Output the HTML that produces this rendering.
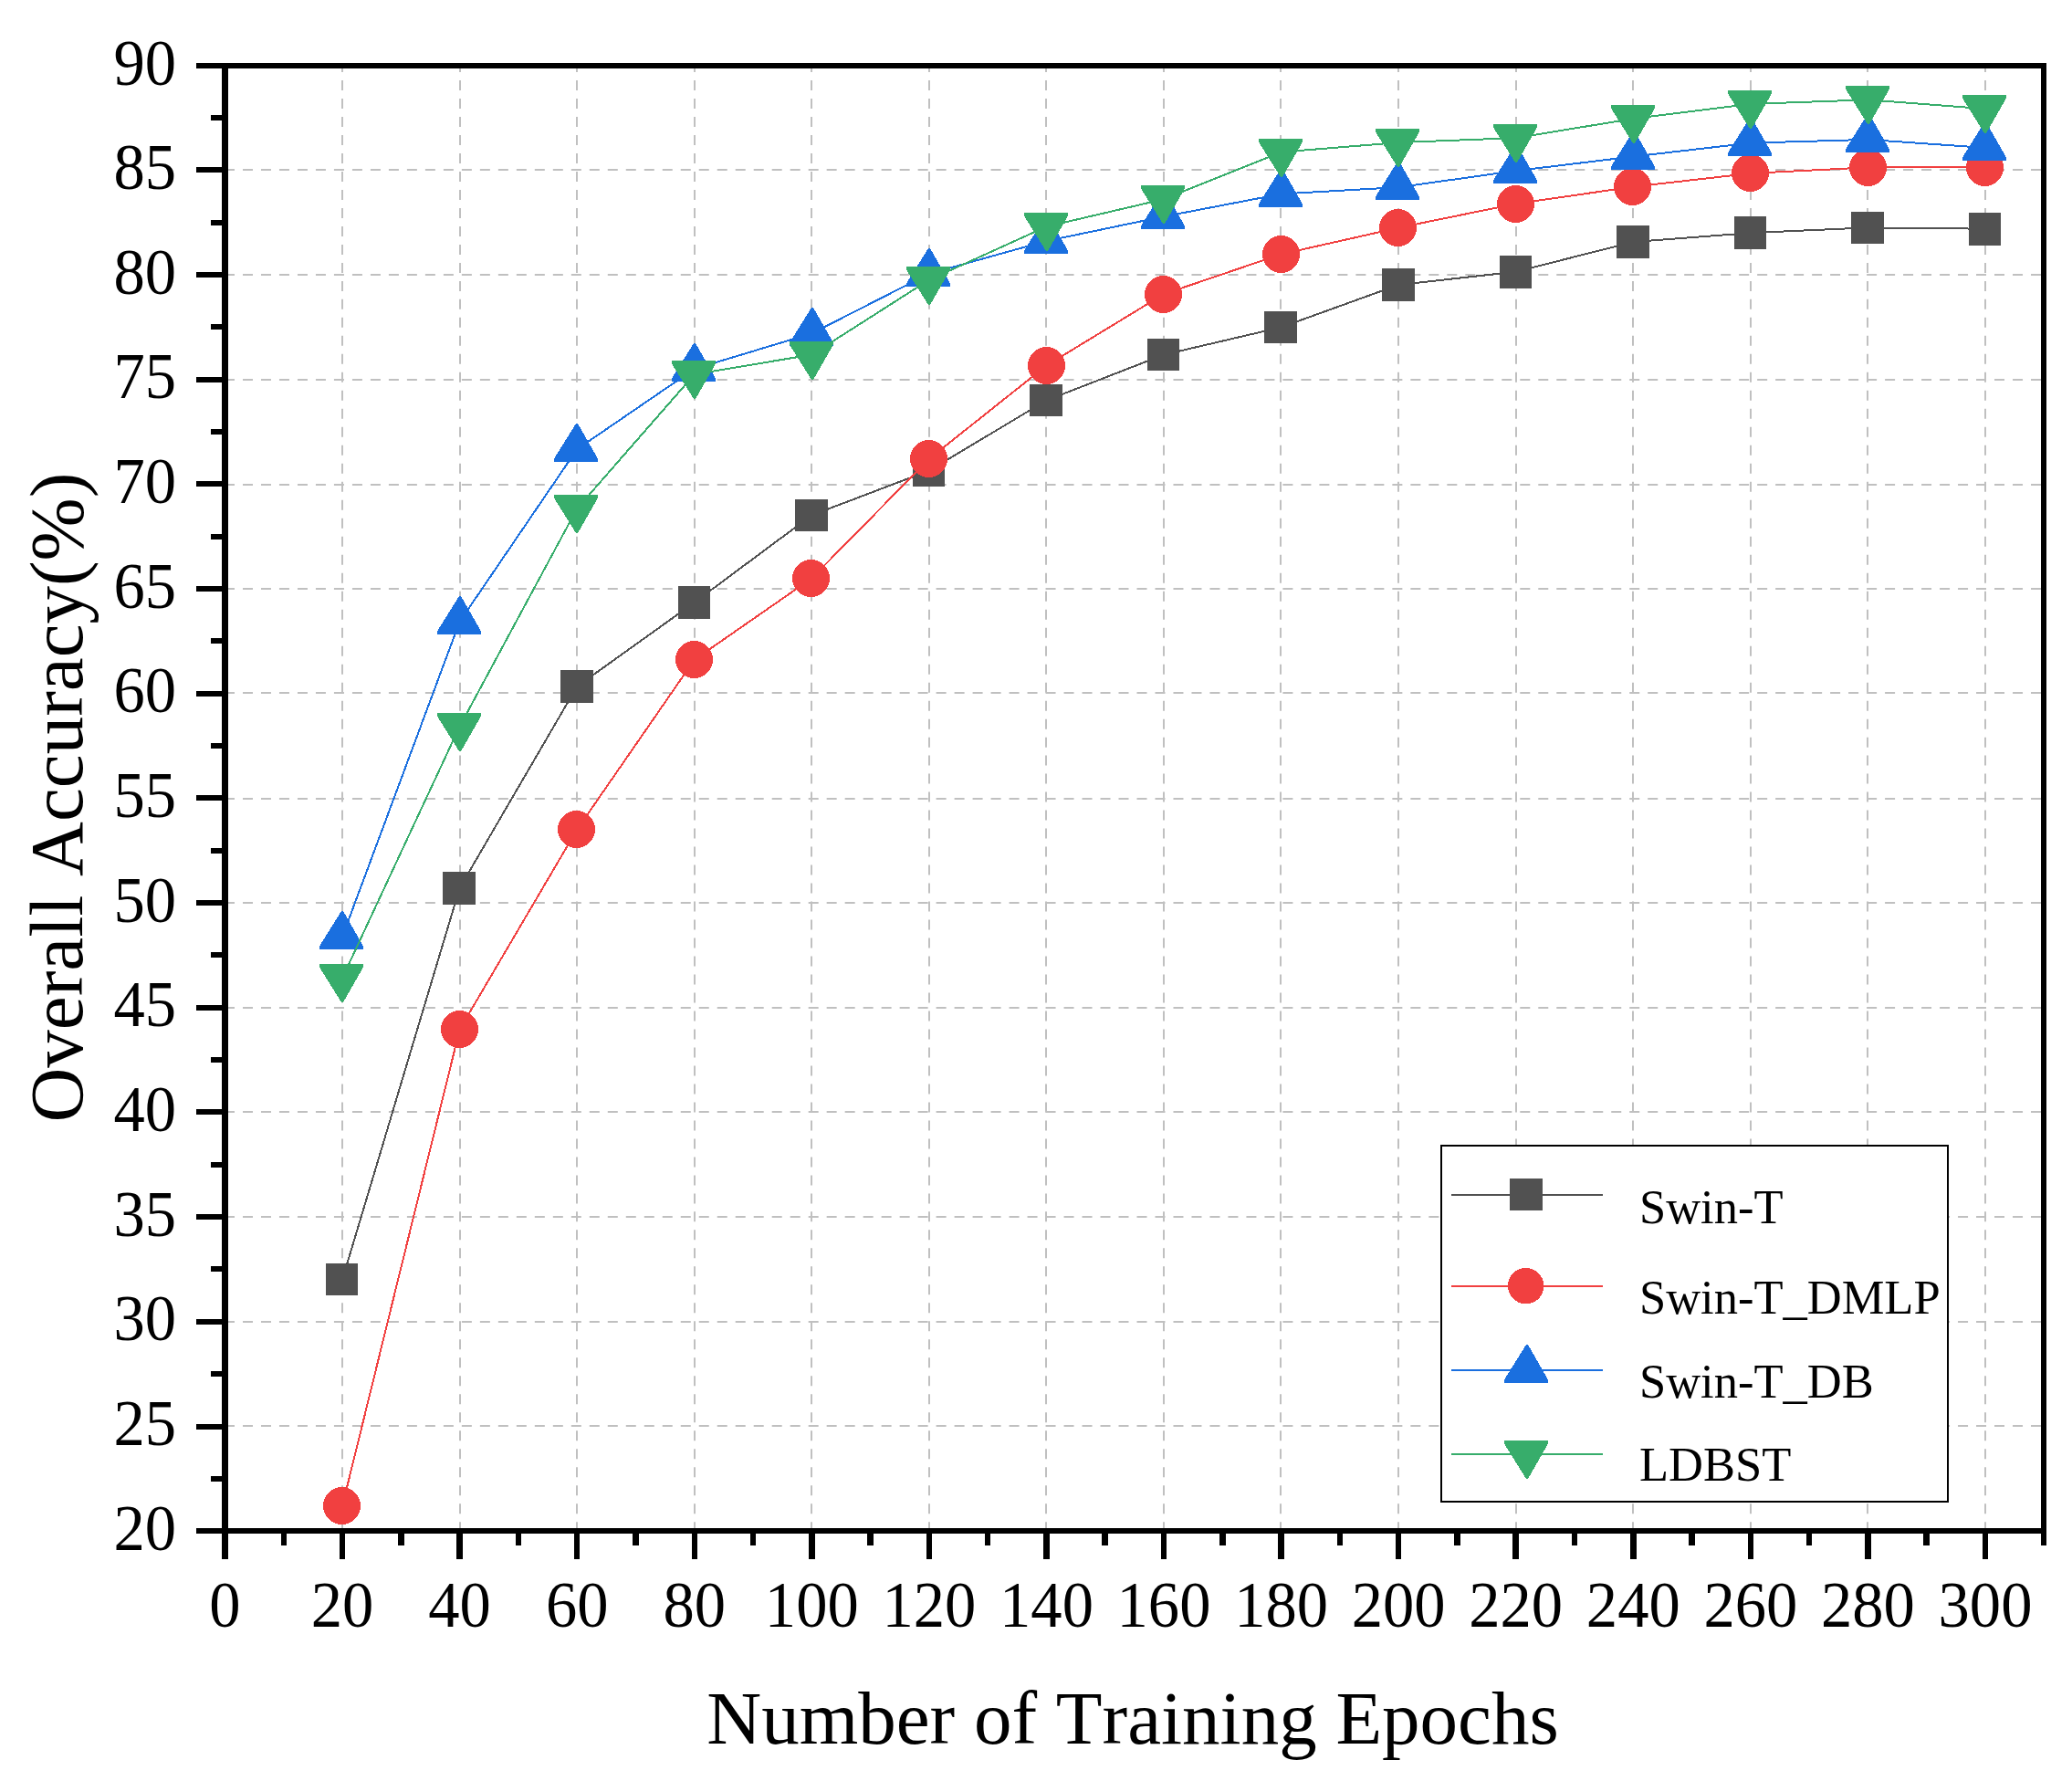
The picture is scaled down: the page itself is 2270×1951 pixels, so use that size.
<!DOCTYPE html>
<html lang="en">
<head>
<meta charset="utf-8">
<title>Overall Accuracy vs Number of Training Epochs</title>
<style>
html,body{margin:0;padding:0;background:#fff;}
body{width:2270px;height:1951px;overflow:hidden;}
svg{display:block;}
text{font-family:"Liberation Serif", "Times New Roman", Times, serif;fill:#000;font-kerning:none;font-variant-ligatures:none;}
</style>
</head>
<body>
<svg width="2270" height="1951" viewBox="0 0 2270 1951">
<rect x="0" y="0" width="2270" height="1951" fill="#ffffff"/>
<g stroke="#c0c0c0" stroke-width="2" stroke-dasharray="11 8.99" fill="none">
<line x1="250" y1="1562" x2="2237" y2="1562" stroke-dashoffset="4"/>
<line x1="250" y1="1448" x2="2237" y2="1448" stroke-dashoffset="4"/>
<line x1="250" y1="1333" x2="2237" y2="1333" stroke-dashoffset="4"/>
<line x1="250" y1="1218" x2="2237" y2="1218" stroke-dashoffset="4"/>
<line x1="250" y1="1104" x2="2237" y2="1104" stroke-dashoffset="4"/>
<line x1="250" y1="989" x2="2237" y2="989" stroke-dashoffset="4"/>
<line x1="250" y1="875" x2="2237" y2="875" stroke-dashoffset="4"/>
<line x1="250" y1="759" x2="2237" y2="759" stroke-dashoffset="4"/>
<line x1="250" y1="645" x2="2237" y2="645" stroke-dashoffset="4"/>
<line x1="250" y1="531" x2="2237" y2="531" stroke-dashoffset="4"/>
<line x1="250" y1="416" x2="2237" y2="416" stroke-dashoffset="4"/>
<line x1="250" y1="301" x2="2237" y2="301" stroke-dashoffset="4"/>
<line x1="250" y1="186" x2="2237" y2="186" stroke-dashoffset="4"/>
<line x1="375" y1="75" x2="375" y2="1675" stroke-dashoffset="7"/>
<line x1="504" y1="75" x2="504" y2="1675" stroke-dashoffset="7"/>
<line x1="632" y1="75" x2="632" y2="1675" stroke-dashoffset="7"/>
<line x1="761" y1="75" x2="761" y2="1675" stroke-dashoffset="7"/>
<line x1="889" y1="75" x2="889" y2="1675" stroke-dashoffset="7"/>
<line x1="1018" y1="75" x2="1018" y2="1675" stroke-dashoffset="7"/>
<line x1="1146" y1="75" x2="1146" y2="1675" stroke-dashoffset="7"/>
<line x1="1275" y1="75" x2="1275" y2="1675" stroke-dashoffset="7"/>
<line x1="1403" y1="75" x2="1403" y2="1675" stroke-dashoffset="7"/>
<line x1="1532" y1="75" x2="1532" y2="1675" stroke-dashoffset="7"/>
<line x1="1661" y1="75" x2="1661" y2="1675" stroke-dashoffset="7"/>
<line x1="1789" y1="75" x2="1789" y2="1675" stroke-dashoffset="7"/>
<line x1="1918" y1="75" x2="1918" y2="1675" stroke-dashoffset="7"/>
<line x1="2046" y1="75" x2="2046" y2="1675" stroke-dashoffset="7"/>
<line x1="2175" y1="75" x2="2175" y2="1675" stroke-dashoffset="7"/>
</g>
<g shape-rendering="crispEdges">
<polyline points="375.1,1401.6 503.6,972.7 632.2,752.0 760.8,659.9 889.3,564.4 1017.9,515.5 1146.5,438.6 1275.0,388.6 1403.6,358.5 1532.2,312.0 1660.7,297.7 1789.3,265.0 1917.9,255.1 2046.4,249.4 2175.0,250.7" fill="none" stroke="#515151" stroke-width="2" stroke-linejoin="round"/>
<rect x="357" y="1384" width="35" height="35" fill="#515151"/>
<rect x="485" y="955" width="36" height="36" fill="#515151"/>
<rect x="614" y="734" width="36" height="36" fill="#515151"/>
<rect x="743" y="642" width="35" height="36" fill="#515151"/>
<rect x="871" y="547" width="36" height="35" fill="#515151"/>
<rect x="1000" y="498" width="35" height="35" fill="#515151"/>
<rect x="1128" y="421" width="36" height="35" fill="#515151"/>
<rect x="1257" y="371" width="35" height="35" fill="#515151"/>
<rect x="1385" y="341" width="36" height="35" fill="#515151"/>
<rect x="1514" y="294" width="36" height="36" fill="#515151"/>
<rect x="1643" y="280" width="35" height="36" fill="#515151"/>
<rect x="1771" y="247" width="36" height="36" fill="#515151"/>
<rect x="1900" y="237" width="35" height="36" fill="#515151"/>
<rect x="2028" y="232" width="36" height="35" fill="#515151"/>
<rect x="2157" y="233" width="35" height="36" fill="#515151"/>
</g>
<g shape-rendering="crispEdges">
<polyline points="375.1,1649.5 503.6,1127.7 632.2,908.7 760.8,722.7 889.3,633.5 1017.9,502.7 1146.5,400.4 1275.0,322.2 1403.6,278.5 1532.2,249.5 1660.7,223.2 1789.3,204.6 1917.9,189.9 2046.4,183.4 2175.0,183.0" fill="none" stroke="#f14040" stroke-width="2" stroke-linejoin="round"/>
<circle cx="374.5" cy="1649.5" r="20.5" fill="#f14040"/>
<circle cx="503.5" cy="1127.5" r="20.5" fill="#f14040"/>
<circle cx="631.5" cy="908.5" r="20.5" fill="#f14040"/>
<circle cx="760.5" cy="722.5" r="20.5" fill="#f14040"/>
<circle cx="888.5" cy="633.5" r="20.5" fill="#f14040"/>
<circle cx="1017.5" cy="502.5" r="20.5" fill="#f14040"/>
<circle cx="1146.5" cy="400.5" r="20.5" fill="#f14040"/>
<circle cx="1274.5" cy="322.5" r="20.5" fill="#f14040"/>
<circle cx="1403.5" cy="278.5" r="20.5" fill="#f14040"/>
<circle cx="1531.5" cy="249.5" r="20.5" fill="#f14040"/>
<circle cx="1660.5" cy="223.5" r="20.5" fill="#f14040"/>
<circle cx="1788.5" cy="204.5" r="20.5" fill="#f14040"/>
<circle cx="1917.5" cy="189.5" r="20.5" fill="#f14040"/>
<circle cx="2046.5" cy="183.5" r="20.5" fill="#f14040"/>
<circle cx="2174.5" cy="183.5" r="20.5" fill="#f14040"/>
</g>
<g shape-rendering="crispEdges">
<polyline points="375.1,1026.0 503.6,681.0 632.2,492.1 760.8,404.1 889.3,365.3 1017.9,299.8 1146.5,264.0 1275.0,237.2 1403.6,212.5 1532.2,205.1 1660.7,187.1 1789.3,171.5 1917.9,156.6 2046.4,152.9 2175.0,161.9" fill="none" stroke="#1a6fdf" stroke-width="2" stroke-linejoin="round"/>
<polygon points="374,998 376,998 398,1036.4 398,1040 350,1040 350,1036.4" fill="#1a6fdf"/>
<polygon points="503,653 505,653 527,691.4 527,695 479,695 479,691.4" fill="#1a6fdf"/>
<polygon points="631,464 633,464 655,502.4 655,506 607,506 607,502.4" fill="#1a6fdf"/>
<polygon points="760,376 762,376 784,414.4 784,418 736,418 736,414.4" fill="#1a6fdf"/>
<polygon points="889,337 891,337 913,375.4 913,379 865,379 865,375.4" fill="#1a6fdf"/>
<polygon points="1017,272 1019,272 1041,310.4 1041,314 993,314 993,310.4" fill="#1a6fdf"/>
<polygon points="1146,236 1148,236 1170,274.4 1170,278 1122,278 1122,274.4" fill="#1a6fdf"/>
<polygon points="1274,209 1276,209 1298,247.4 1298,251 1250,251 1250,247.4" fill="#1a6fdf"/>
<polygon points="1403,185 1405,185 1427,223.4 1427,227 1379,227 1379,223.4" fill="#1a6fdf"/>
<polygon points="1531,177 1533,177 1555,215.4 1555,219 1507,219 1507,215.4" fill="#1a6fdf"/>
<polygon points="1660,159 1662,159 1684,197.4 1684,201 1636,201 1636,197.4" fill="#1a6fdf"/>
<polygon points="1789,144 1791,144 1813,182.4 1813,186 1765,186 1765,182.4" fill="#1a6fdf"/>
<polygon points="1917,129 1919,129 1941,167.4 1941,171 1893,171 1893,167.4" fill="#1a6fdf"/>
<polygon points="2046,125 2048,125 2070,163.4 2070,167 2022,167 2022,163.4" fill="#1a6fdf"/>
<polygon points="2174,134 2176,134 2198,172.4 2198,176 2150,176 2150,172.4" fill="#1a6fdf"/>
</g>
<g shape-rendering="crispEdges">
<polyline points="375.1,1071.3 503.6,795.8 632.2,557.1 760.8,410.1 889.3,388.5 1017.9,306.6 1146.5,248.2 1275.0,218.2 1403.6,166.6 1532.2,156.1 1660.7,151.1 1789.3,130.0 1917.9,113.9 2046.4,109.3 2175.0,119.2" fill="none" stroke="#37ad6b" stroke-width="2" stroke-linejoin="round"/>
<polygon points="350,1056 398,1056 398,1059.6 376,1098 374,1098 350,1059.6" fill="#37ad6b"/>
<polygon points="479,781 527,781 527,784.6 505,823 503,823 479,784.6" fill="#37ad6b"/>
<polygon points="607,542 655,542 655,545.6 633,584 631,584 607,545.6" fill="#37ad6b"/>
<polygon points="736,395 784,395 784,398.6 762,437 760,437 736,398.6" fill="#37ad6b"/>
<polygon points="865,374 913,374 913,377.6 891,416 889,416 865,377.6" fill="#37ad6b"/>
<polygon points="993,292 1041,292 1041,295.6 1019,334 1017,334 993,295.6" fill="#37ad6b"/>
<polygon points="1122,233 1170,233 1170,236.6 1148,275 1146,275 1122,236.6" fill="#37ad6b"/>
<polygon points="1250,203 1298,203 1298,206.6 1276,245 1274,245 1250,206.6" fill="#37ad6b"/>
<polygon points="1379,152 1427,152 1427,155.6 1405,194 1403,194 1379,155.6" fill="#37ad6b"/>
<polygon points="1507,141 1555,141 1555,144.6 1533,183 1531,183 1507,144.6" fill="#37ad6b"/>
<polygon points="1636,136 1684,136 1684,139.6 1662,178 1660,178 1636,139.6" fill="#37ad6b"/>
<polygon points="1765,115 1813,115 1813,118.6 1791,157 1789,157 1765,118.6" fill="#37ad6b"/>
<polygon points="1893,99 1941,99 1941,102.6 1919,141 1917,141 1893,102.6" fill="#37ad6b"/>
<polygon points="2022,94 2070,94 2070,97.6 2048,136 2046,136 2022,97.6" fill="#37ad6b"/>
<polygon points="2150,104 2198,104 2198,107.6 2176,146 2174,146 2150,107.6" fill="#37ad6b"/>
</g>
<g fill="#000000">
<rect x="243" y="69" width="7" height="1639"/>
<rect x="215" y="1674" width="2027" height="6"/>
<rect x="215" y="69" width="2027" height="6"/>
<rect x="2236" y="69" width="6" height="1624"/>
<rect x="231" y="1617" width="14" height="6"/>
<rect x="215" y="1560" width="30" height="6"/>
<rect x="231" y="1502" width="14" height="6"/>
<rect x="215" y="1445" width="30" height="6"/>
<rect x="231" y="1387" width="14" height="6"/>
<rect x="215" y="1330" width="30" height="6"/>
<rect x="231" y="1273" width="14" height="6"/>
<rect x="215" y="1215" width="30" height="6"/>
<rect x="231" y="1158" width="14" height="6"/>
<rect x="215" y="1101" width="30" height="6"/>
<rect x="231" y="1043" width="14" height="6"/>
<rect x="215" y="986" width="30" height="6"/>
<rect x="231" y="929" width="14" height="6"/>
<rect x="215" y="871" width="30" height="6"/>
<rect x="231" y="814" width="14" height="6"/>
<rect x="215" y="757" width="30" height="6"/>
<rect x="231" y="699" width="14" height="6"/>
<rect x="215" y="642" width="30" height="6"/>
<rect x="231" y="585" width="14" height="6"/>
<rect x="215" y="527" width="30" height="6"/>
<rect x="231" y="470" width="14" height="6"/>
<rect x="215" y="413" width="30" height="6"/>
<rect x="231" y="355" width="14" height="6"/>
<rect x="215" y="298" width="30" height="6"/>
<rect x="231" y="241" width="14" height="6"/>
<rect x="215" y="183" width="30" height="6"/>
<rect x="231" y="126" width="14" height="6"/>
<rect x="308" y="1678" width="6" height="15"/>
<rect x="372" y="1678" width="6" height="30"/>
<rect x="436" y="1678" width="7" height="15"/>
<rect x="500" y="1678" width="7" height="30"/>
<rect x="565" y="1678" width="6" height="15"/>
<rect x="629" y="1678" width="6" height="30"/>
<rect x="693" y="1678" width="7" height="15"/>
<rect x="758" y="1678" width="6" height="30"/>
<rect x="822" y="1678" width="6" height="15"/>
<rect x="886" y="1678" width="7" height="30"/>
<rect x="950" y="1678" width="7" height="15"/>
<rect x="1015" y="1678" width="6" height="30"/>
<rect x="1079" y="1678" width="6" height="15"/>
<rect x="1143" y="1678" width="7" height="30"/>
<rect x="1207" y="1678" width="7" height="15"/>
<rect x="1272" y="1678" width="6" height="30"/>
<rect x="1336" y="1678" width="7" height="15"/>
<rect x="1400" y="1678" width="7" height="30"/>
<rect x="1465" y="1678" width="6" height="15"/>
<rect x="1529" y="1678" width="6" height="30"/>
<rect x="1593" y="1678" width="7" height="15"/>
<rect x="1657" y="1678" width="7" height="30"/>
<rect x="1722" y="1678" width="6" height="15"/>
<rect x="1786" y="1678" width="7" height="30"/>
<rect x="1850" y="1678" width="7" height="15"/>
<rect x="1915" y="1678" width="6" height="30"/>
<rect x="1979" y="1678" width="6" height="15"/>
<rect x="2043" y="1678" width="7" height="30"/>
<rect x="2107" y="1678" width="7" height="15"/>
<rect x="2172" y="1678" width="6" height="30"/>
</g>
<g font-size="70" text-anchor="end">
<text transform="translate(193 1697.5) scale(0.98 1.022)">20</text>
<text transform="translate(193 1582.9) scale(0.98 1.022)">25</text>
<text transform="translate(193 1468.2) scale(0.98 1.022)">30</text>
<text transform="translate(193 1353.6) scale(0.98 1.022)">35</text>
<text transform="translate(193 1238.9) scale(0.98 1.022)">40</text>
<text transform="translate(193 1124.3) scale(0.98 1.022)">45</text>
<text transform="translate(193 1009.6) scale(0.98 1.022)">50</text>
<text transform="translate(193 895.0) scale(0.98 1.022)">55</text>
<text transform="translate(193 780.3) scale(0.98 1.022)">60</text>
<text transform="translate(193 665.7) scale(0.98 1.022)">65</text>
<text transform="translate(193 551.1) scale(0.98 1.022)">70</text>
<text transform="translate(193 436.4) scale(0.98 1.022)">75</text>
<text transform="translate(193 321.8) scale(0.98 1.022)">80</text>
<text transform="translate(193 207.1) scale(0.98 1.022)">85</text>
<text transform="translate(193 92.5) scale(0.98 1.022)">90</text>
</g>
<g font-size="70" text-anchor="middle">
<text transform="translate(246.5 1782) scale(0.98 1.022)">0</text>
<text transform="translate(375.1 1782) scale(0.98 1.022)">20</text>
<text transform="translate(503.6 1782) scale(0.98 1.022)">40</text>
<text transform="translate(632.2 1782) scale(0.98 1.022)">60</text>
<text transform="translate(760.8 1782) scale(0.98 1.022)">80</text>
<text transform="translate(889.3 1782) scale(0.98 1.022)">100</text>
<text transform="translate(1017.9 1782) scale(0.98 1.022)">120</text>
<text transform="translate(1146.5 1782) scale(0.98 1.022)">140</text>
<text transform="translate(1275.0 1782) scale(0.98 1.022)">160</text>
<text transform="translate(1403.6 1782) scale(0.98 1.022)">180</text>
<text transform="translate(1532.2 1782) scale(0.98 1.022)">200</text>
<text transform="translate(1660.7 1782) scale(0.98 1.022)">220</text>
<text transform="translate(1789.3 1782) scale(0.98 1.022)">240</text>
<text transform="translate(1917.9 1782) scale(0.98 1.022)">260</text>
<text transform="translate(2046.4 1782) scale(0.98 1.022)">280</text>
<text transform="translate(2175.0 1782) scale(0.98 1.022)">300</text>
</g>
<text x="1241" y="1910" font-size="83" text-anchor="middle">Number of Training Epochs</text>
<text transform="translate(89.5 873.6) rotate(-90)" font-size="83" text-anchor="middle">Overall Accuracy(%)</text>
<rect x="1579" y="1255" width="555" height="390" fill="#ffffff" stroke="#000000" stroke-width="2"/>
<g shape-rendering="crispEdges">
<line x1="1589.5" y1="1309" x2="1756" y2="1309" stroke="#515151" stroke-width="2"/>
<rect x="1654" y="1291" width="36" height="35" fill="#515151"/>
<text x="1796" y="1339.5" font-size="52.5">Swin-T</text>
<line x1="1589.5" y1="1409" x2="1756" y2="1409" stroke="#f14040" stroke-width="2"/>
<circle cx="1671.7" cy="1408.7" r="19.7" fill="#f14040"/>
<text x="1796" y="1439" font-size="52.5">Swin-T_DMLP</text>
<line x1="1589.5" y1="1501" x2="1756" y2="1501" stroke="#1a6fdf" stroke-width="2"/>
<polygon points="1672,1473 1674,1473 1696,1511.4 1696,1515 1648,1515 1648,1511.4" fill="#1a6fdf"/>
<text x="1796" y="1531" font-size="52.5">Swin-T_DB</text>
<line x1="1589.5" y1="1593" x2="1756" y2="1593" stroke="#37ad6b" stroke-width="2"/>
<polygon points="1648,1578 1696,1578 1696,1581.6 1674,1620 1672,1620 1648,1581.6" fill="#37ad6b"/>
<text x="1796" y="1622" font-size="52.5">LDBST</text>
</g>
</svg>
</body>
</html>
